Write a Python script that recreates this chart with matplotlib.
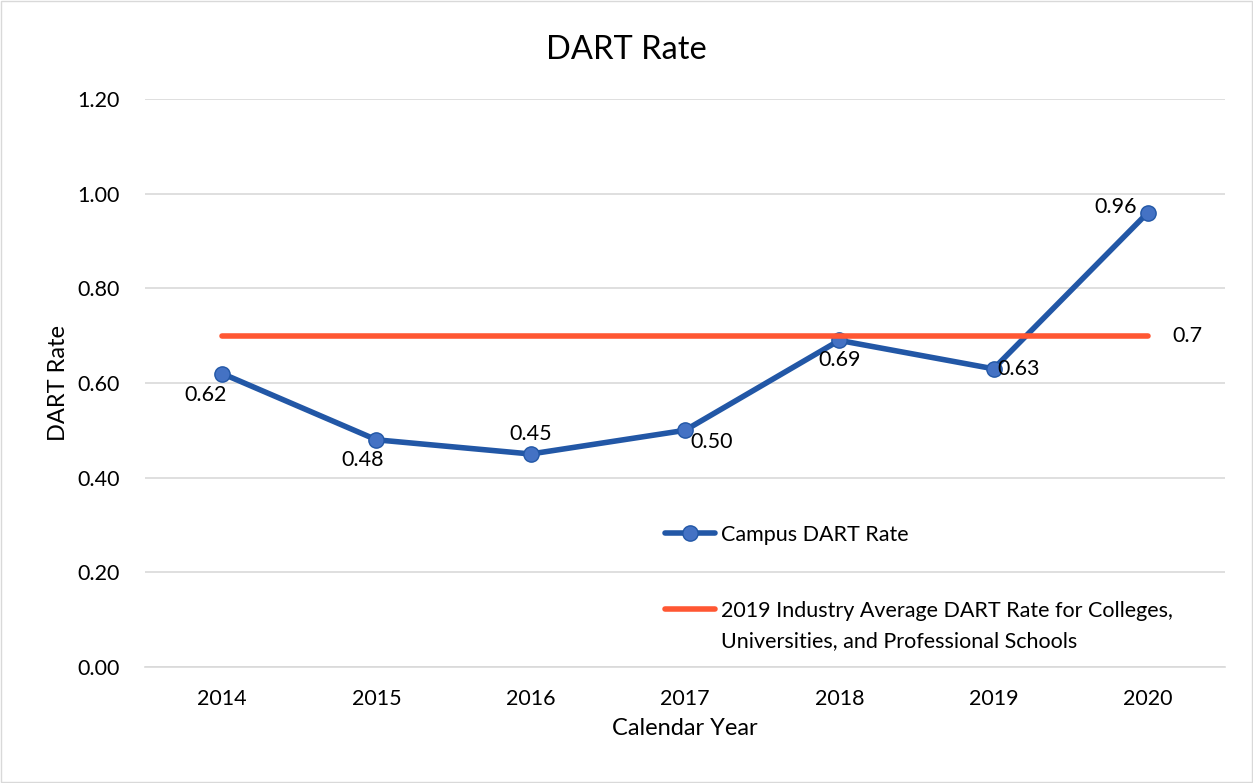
import numpy as np
import matplotlib.pyplot as plt

plt.rcParams['font.family'] = ['Lato', 'DejaVu Sans']

years = ['2014', '2015', '2016', '2017', '2018', '2019', '2020']
campus_rate = [0.62, 0.48, 0.45, 0.50, 0.69, 0.63, 0.96]
industry_avg = [0.7, 0.7, 0.7, 0.7, 0.7, 0.7, 0.7]
yticks = [0.0, 0.2, 0.4, 0.6, 0.8, 1.0, 1.2]

# label placement for each data point (dx, dy in points, ha, va)
label_pos = [(-12, -8, 'center', 'top'),
             (-10, -7, 'center', 'top'),
             (0, 7, 'center', 'bottom'),
             (4, -1, 'left', 'top'),
             (0, -7, 'center', 'top'),
             (3, 0, 'left', 'center'),
             (-8, 4, 'right', 'center')]

blue = '#2257A6'
orange = '#FF5733'
fs = 15.5

fig = plt.figure(figsize=(12.53, 7.83), dpi=100)
ax = fig.add_axes([145 / 1253, 116 / 783, 1080 / 1253, 568 / 783])

x = np.arange(len(years))
ax.plot(x, campus_rate, color=blue, lw=4, marker='o', ms=11,
        markerfacecolor='#4472C4', markeredgecolor=blue, markeredgewidth=1,
        label='Campus DART Rate', zorder=3, solid_capstyle='round')
ax.plot(x, industry_avg, color=orange, lw=4, solid_capstyle='round',
        label='2019 Industry Average DART Rate for Colleges,', zorder=4)

for i, v in enumerate(campus_rate):
    dx, dy, ha, va = label_pos[i]
    ax.annotate(f'{v:.2f}', (x[i], v), xytext=(dx, dy), textcoords='offset points',
                ha=ha, va=va, fontsize=fs, color='#000000', zorder=5)
ax.annotate(f'{industry_avg[-1]:g}', (x[-1], industry_avg[-1]), xytext=(18, 0),
            textcoords='offset points', ha='left', va='center', fontsize=fs)

ax.set_xlim(-0.5, len(years) - 0.5)
ax.set_ylim(0, 1.2)
ax.set_xticks(x)
ax.set_xticklabels(years, fontsize=fs)
ax.set_yticks(yticks)
ax.set_yticklabels([f'{t:.2f}' for t in yticks], fontsize=fs)
ax.tick_params(axis='x', length=0, pad=16)
ax.tick_params(axis='y', length=0, pad=18)
ax.grid(axis='y', color='#D9D9D9', lw=1.2)
ax.set_axisbelow(True)
for s in ['top', 'right', 'left']:
    ax.spines[s].set_visible(False)
ax.spines['bottom'].set_color('#D9D9D9')
ax.spines['bottom'].set_linewidth(1.2)

ax.set_xlabel('Calendar Year', fontsize=17, labelpad=6)
ax.set_ylabel('DART Rate', fontsize=17, labelpad=6)
fig.text(0.5, 1 - 50 / 783, 'DART Rate', ha='center', va='center', fontsize=23.5)

leg = ax.legend(loc='upper left', bbox_to_anchor=(665 / 1253, 1 - 525 / 783),
                bbox_transform=fig.transFigure, frameon=False, fontsize=fs,
                handlelength=2.3, handletextpad=0.3, labelspacing=2.6, borderpad=0,
                borderaxespad=0)

# second line of the industry label sits under the first, handle stays on line one
fig.canvas.draw()
tb = leg.get_texts()[1].get_window_extent()
fig.text(tb.x0 / 1253, (tb.y0 - 30) / 783, 'Universities, and Professional Schools',
         fontsize=fs, ha='left', va='bottom')

border = plt.Rectangle((0.001, 0.001), 0.998, 0.998, transform=fig.transFigure,
                       fill=False, edgecolor='#D9D9D9', lw=1)
fig.patches.append(border)

fig.savefig('out.png', dpi=100)
